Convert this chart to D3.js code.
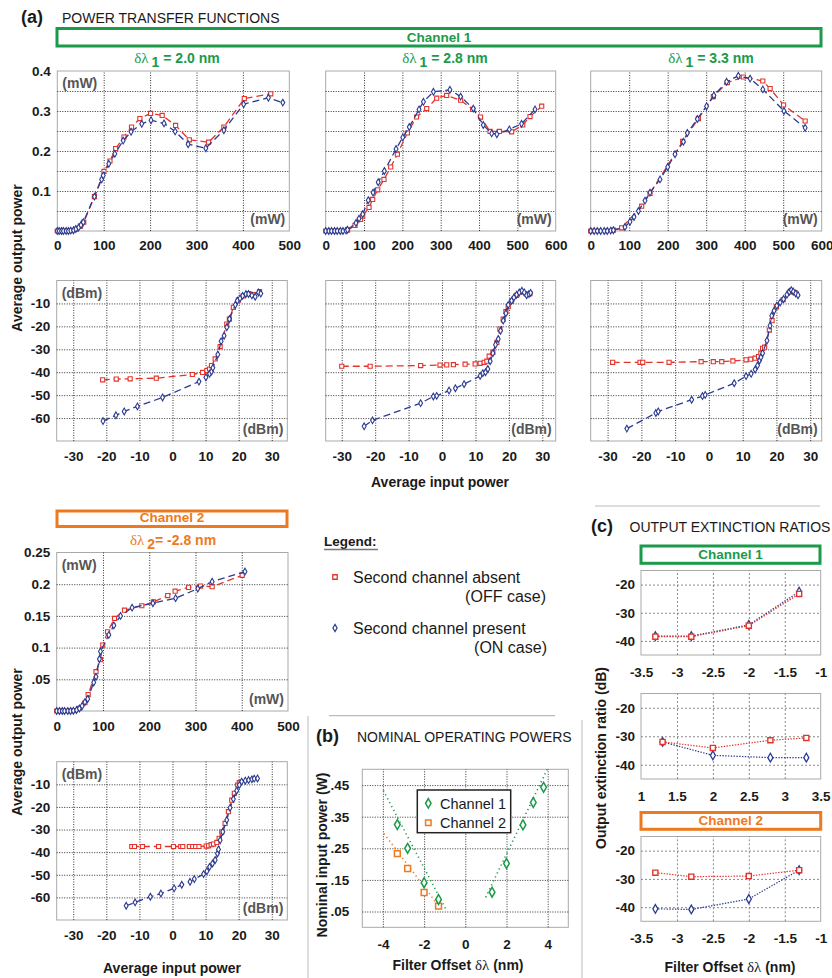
<!DOCTYPE html>
<html>
<head>
<meta charset="utf-8">
<script src="https://cdn.jsdelivr.net/npm/d3@7"></script>
<style>
  body { margin: 0; background: #fff; }
  svg { display: block; }
</style>
</head>
<body>
<svg id="fig" width="832" height="978"></svg>
<script>
// ---------- Channel 1 transfer functions, linear scale (input mW, output mW) ----------
const ch1Offsets = ["2.0", "2.8", "3.3"];
const ch2Offset = "-2.8";

const ch1Lin20Off = [[0,0],[10,0],[20,0],[30,0.001],[40,0.004],[50,0.012],[57,0.022],[80,0.086],[100.6,0.149],[113.5,0.175],[125.7,0.206],[143.7,0.235],[160,0.26],[178,0.281],[201,0.294],[226,0.289],[255,0.264],[284.5,0.228],[326,0.222],[359,0.26],[403,0.331],[460,0.343]];
const ch1Lin20On = [[0,0],[4,0],[9,0],[13,0],[19,0],[24,0],[29,0.001],[35,0.002],[40,0.005],[46,0.009],[51,0.015],[56,0.022],[80,0.086],[95.5,0.129],[99,0.139],[111,0.168],[124,0.193],[142,0.226],[159,0.248],[182,0.268],[202,0.277],[230,0.269],[254,0.249],[282,0.217],[320,0.207],[359,0.252],[401.6,0.317],[455,0.333],[486,0.321]];

const ch1Lin28Off = [[0,0],[20,0],[40,0],[57,0.002],[76.5,0.014],[91,0.029],[96.5,0.037],[113,0.059],[122.6,0.079],[135.7,0.103],[152,0.129],[169.6,0.16],[187,0.192],[213,0.245],[237,0.285],[263.5,0.306],[289.6,0.332],[315.6,0.339],[352,0.327],[383.5,0.304],[404,0.285],[428.7,0.249],[453,0.249],[485,0.248],[514,0.265],[533,0.286],[563.5,0.312]];
const ch1Lin28On = [[0,0],[8,0],[15,0],[23,0],[30,0],[38,0],[45,0],[53,0.001],[57,0.003],[79,0.02],[87,0.031],[96.5,0.042],[111,0.077],[123.5,0.096],[137,0.122],[153,0.15],[183.5,0.205],[201,0.234],[218,0.26],[243.5,0.304],[255,0.323],[281,0.348],[324,0.353],[352,0.336],[385,0.306],[411,0.265],[433,0.244],[446.5,0.242],[479,0.254],[511,0.268],[546,0.304]];

const ch1Lin33Off = [[0,0],[20,0],[40,0],[59,0.002],[80.5,0.008],[132.5,0.062],[154,0.094],[239,0.224],[279.7,0.281],[318.6,0.336],[355,0.371],[396.5,0.385],[447,0.375],[466,0.356],[501,0.315],[557,0.275]];
const ch1Lin33On = [[0,0],[9,0],[17,0],[26,0],[35,0],[43,0],[52,0.001],[59,0.002],[89,0.01],[102,0.023],[112.5,0.035],[124,0.05],[141,0.076],[154,0.096],[180,0.129],[200,0.16],[219,0.192],[240.7,0.223],[251,0.245],[277,0.28],[301,0.312],[320,0.339],[353,0.373],[383.5,0.388],[414,0.381],[447,0.354],[502,0.3],[557,0.258]];

// ---------- Channel 1 transfer functions, log scale (input dBm, output dBm) ----------
const ch1Log20Off = [[-21.1,-43.3],[-17,-43],[-12.8,-42.9],[-4.9,-42.6],[6,-41],[9.1,-40.1],[10.4,-39.3],[11.2,-38.6],[11.8,-37.1],[12.9,-34.2],[14.4,-28.8],[16.4,-19],[17.2,-16.8],[18.4,-11.7],[19.9,-8.6],[21.4,-6.7],[23,-5.7],[24.5,-6.2],[26.3,-4.9]];
const ch1Log20On = [[-21,-61.3],[-17.1,-58.8],[-14.6,-57.1],[-10.6,-54.9],[-3,-51],[8,-44.1],[10.1,-42.2],[11.2,-40.7],[11.8,-39.7],[12.2,-38.1],[13.7,-32.3],[14.7,-26.5],[15.6,-24.1],[16.4,-20.4],[17.2,-16.8],[19,-10.6],[19.6,-8.8],[20.4,-7.8],[21.2,-6.7],[22.2,-5.9],[23,-5.9],[24,-6.5],[25,-7.1],[26,-5.2],[26.7,-5.7]];

const ch1Log28Off = [[-30,-37.4],[-21.5,-37.4],[-6.4,-37.1],[-0.6,-36.9],[1.4,-36.8],[3.4,-36.7],[6.9,-36.5],[9.9,-36.4],[11.4,-36.1],[12.6,-35.7],[13.4,-35.2],[14.1,-33],[15.2,-31.3],[16.4,-27],[17.3,-21.2],[18.3,-16.8],[19.1,-13.6],[19.8,-11.4],[20.8,-9],[22.3,-6.5],[24,-5],[26.3,-5.7]];
const ch1Log28On = [[-23.3,-63.6],[-20.8,-61],[-6.4,-53.5],[-2.6,-50.6],[-1.6,-50.3],[2.1,-48],[4,-47],[6.6,-45.2],[11.4,-41.6],[12.2,-40.4],[13,-40],[13.7,-38.6],[14.4,-35.2],[15.2,-31.7],[16,-28],[16.8,-25.5],[17.5,-21.9],[18.3,-17.5],[19.1,-14.3],[19.8,-10.7],[20.8,-8.8],[21.5,-7.4],[22.3,-6.2],[23.1,-5.2],[23.9,-4.5],[24.6,-5.2],[25.3,-6.4],[26,-5.9],[26.5,-5.4]];

const ch1Log33Off = [[-28.5,-35.7],[-20.4,-35.7],[-19.6,-35.7],[-11.8,-35.7],[-2.3,-35.4],[1.3,-35.4],[3.8,-35.4],[7.1,-35.1],[11,-34.6],[12.4,-34.3],[13.7,-33.9],[14.7,-33.2],[15.4,-31.7],[15.9,-29.6],[16.5,-29.1],[17.9,-21.6],[18.7,-17.5],[20,-11.5],[22,-8.3],[24,-5],[25.5,-5.3]];
const ch1Log33On = [[-24.3,-64.6],[-15.7,-57.8],[-15,-57.1],[-5.1,-52],[-1.9,-50.4],[-1.1,-49.9],[7.5,-44.8],[11,-41.7],[12.5,-40.7],[13.7,-38.8],[14.4,-37.1],[15,-34.9],[15.4,-33.5],[15.9,-31.7],[17.2,-26.2],[18.1,-19.7],[18.6,-15.4],[19.3,-13.2],[20.1,-11],[21.1,-9.6],[22.1,-8.1],[23.1,-6.2],[23.8,-4.9],[24.4,-4.2],[25,-4.8],[25.7,-5.7],[26.4,-6.4]];

// ---------- Channel 2 transfer functions ----------
const ch2LinOff = [[0,0],[12,0],[24,0],[36,0.0005],[49,0.004],[61,0.013],[68,0.026],[85,0.062],[94.6,0.081],[99.6,0.104],[110,0.125],[125,0.146],[146.6,0.159],[184,0.166],[209,0.172],[240,0.182],[256,0.189],[285,0.195],[311,0.197],[336,0.196],[401,0.214]];
const ch2LinOn = [[0,0],[6,0],[12,0],[17,0],[24,0],[30,0],[36,0.0005],[43,0.0016],[49,0.004],[55,0.008],[61,0.014],[67,0.019],[80,0.045],[85,0.054],[92.4,0.082],[94.6,0.094],[112.6,0.12],[123.5,0.135],[138,0.15],[163,0.163],[208,0.17],[257,0.178],[305,0.193],[336,0.204],[407,0.22]];
const ch2LogOff = [[-12.3,-37.5],[-11.5,-37.5],[-9.1,-37.5],[-4.2,-37.5],[0.3,-37.5],[2.5,-37.5],[3.1,-37.5],[5.1,-37.5],[6.1,-37.5],[7,-37.5],[8,-37.5],[10.2,-37.3],[10.9,-37.2],[11.7,-36.7],[12.4,-36.4],[13.4,-35.7],[14.1,-33.9],[14.9,-31],[15.9,-27.3],[16.9,-22.1],[17.9,-17],[18.7,-14],[19.7,-10.3],[20.2,-9.3]];
const ch2LogOn = [[-14,-63.7],[-11.3,-62.2],[-6.7,-59.7],[-3.5,-58.3],[0.5,-56],[2.8,-54.4],[5.3,-53.1],[6.6,-51.9],[9.4,-49.7],[10.4,-48.4],[11.2,-46.5],[12.1,-45],[12.9,-43.5],[13.6,-40.6],[13.9,-38.8],[14.4,-34.7],[15.2,-31],[16.4,-25.8],[17.4,-20.4],[18.4,-16.5],[19.4,-12.8],[20.2,-10.3],[20.9,-8.8],[22,-8.4],[23,-8.1],[24,-7.8],[24.7,-7.5],[25.7,-7.4]];

// ---------- (b) nominal operating powers ----------
const nomCh1 = [[-3.3,0.325],[-2.8,0.25],[-2,0.141],[-1.3,0.088],[1.3,0.111],[2,0.202],[2.8,0.324],[3.3,0.395],[3.8,0.443]];
const nomCh2 = [[-3.3,0.233],[-2.8,0.186],[-2,0.11],[-1.3,0.067]];
const fitCh1Neg = [[-3.98,0.433],[-0.95,0.058]];
const fitCh1Pos = [[0.99,0.095],[3.98,0.5]];
const fitCh2Neg = [[-3.95,0.297],[-1.15,0.055]];

// ---------- (c) output extinction ratios ----------
const extOffsetsNeg = [-3.3, -2.8, -2, -1.3];
const extOffsetsPos = [1.3, 2, 2.8, 3.3];
const extCh1NegOff = [-38.5, -38.5, -34.6, -23.3];
const extCh1NegOn  = [-38.3, -38.3, -34.3, -22.5];
const extCh1PosOff = [-32, -34.1, -31.4, -30.6];
const extCh1PosOn  = [-32, -36.7, -37.5, -37.5];
const extCh2Off    = [-27.8, -29.2, -29, -26.9];
const extCh2On     = [-40.6, -40.8, -37.1, -26.9];

// ---------- tick values / labels ----------
const mwTicks500 = [0, 100, 200, 300, 400, 500];
const mwTicks600 = [0, 100, 200, 300, 400, 500, 600];
const mwGridX = [100, 200, 300, 400, 500];
const mwTicksY = [0.1, 0.2, 0.3, 0.4];
const mwGridY = [0.05, 0.1, 0.15, 0.2, 0.25, 0.3, 0.35];
const dbmTicksX = [-30, -20, -10, 0, 10, 20, 30];
const dbmTicksY = [-10, -20, -30, -40, -50, -60];
const ch2TicksY = [0.05, 0.1, 0.15, 0.2, 0.25];
const ch2TickLabelsY = [".05", "0.1", "0.15", "0.2", "0.25"];
const ch2GridY = [0.05, 0.1, 0.15, 0.2];
const nomTicksX = [-4, -2, 0, 2, 4];
const nomTicksY = [0.05, 0.15, 0.25, 0.35, 0.45];
const nomTickLabelsY = [".05", ".15", ".25", ".35", ".45"];
const extTicksNeg = [-3.5, -3, -2.5, -2, -1.5, -1];
const extTicksPos = [1, 1.5, 2, 2.5, 3, 3.5];
const extTicksY = [-20, -30, -40];

// ---------- styling ----------
const RED = "#e2342c", BLUE = "#2b3b90", GREEN = "#1b9a4a", ORANGE = "#ee7a20";
const FONT = '"Liberation Sans", Arial, Helvetica, sans-serif';
const SERIF = '"Liberation Serif", "DejaVu Serif", serif';
const svg = d3.select("#fig");

const asPairs = (xs, ys) => xs.map((v, i) => [v, ys[i]]);

function label(x, y, str, o = {}) {
  const t = svg.append("text")
    .attr("x", x).attr("y", y)
    .attr("font-family", o.family || FONT)
    .attr("font-size", o.size || 13)
    .attr("font-weight", o.weight || "normal")
    .attr("fill", o.color || "#1a1a1a")
    .attr("text-anchor", o.anchor || "start")
    .text(str);
  if (o.rotate) t.attr("transform", `rotate(${o.rotate},${x},${y})`);
  return t;
}

function boxTitle(x0, x1, y0, y1, str, color) {
  svg.append("rect").attr("x", x0).attr("y", y0).attr("width", x1 - x0).attr("height", y1 - y0)
    .attr("fill", "#fff").attr("stroke", color).attr("stroke-width", 3);
  label((x0 + x1) / 2, y1 - 4.5, str, { anchor: "middle", weight: "bold", color, size: 13.5 });
}

function deltaLabel(cx, y, sub, rest, color) {
  const t = svg.append("text").attr("x", cx).attr("y", y).attr("text-anchor", "middle")
    .attr("fill", color).attr("font-family", FONT).attr("font-weight", "bold").attr("font-size", 14);
  t.append("tspan").attr("font-family", SERIF).attr("font-weight", "normal").attr("font-size", 15).text("δλ");
  t.append("tspan").attr("dx", 3).attr("dy", 4).attr("font-size", 14).text(sub);
  t.append("tspan").attr("dy", -4).text(rest);
}

function xTitle(cx, y, str) {
  label(cx, y, str, { anchor: "middle", weight: "bold", size: 14 });
}

function filterOffsetTitle(cx, y) {
  const t = svg.append("text").attr("x", cx).attr("y", y).attr("text-anchor", "middle")
    .attr("fill", "#1a1a1a").attr("font-family", FONT).attr("font-weight", "bold").attr("font-size", 14);
  t.append("tspan").text("Filter Offset ");
  t.append("tspan").attr("font-family", SERIF).attr("font-weight", "normal").attr("font-size", 15).text("δλ");
  t.append("tspan").text(" (nm)");
}

function drawPanel(p) {
  const g = svg.append("g");
  const x = d3.scaleLinear().domain(p.xDomain).range([p.left, p.right]);
  const y = d3.scaleLinear().domain(p.yDomain).range([p.bottom, p.top]);
  const w = p.right - p.left, h = p.bottom - p.top;

  g.append("rect").attr("x", p.left).attr("y", p.top).attr("width", w).attr("height", h)
    .attr("fill", "#fff").attr("stroke", p.frameColor || "#a9a9a9").attr("stroke-width", 1);

  // grid lines
  const gx = g.append("g").attr("transform", `translate(0,${p.bottom})`)
    .call(d3.axisBottom(x).tickValues(p.xGrid).tickSize(-h).tickFormat(""));
  const gy = g.append("g").attr("transform", `translate(${p.left},0)`)
    .call(d3.axisLeft(y).tickValues(p.yGrid).tickSize(-w).tickFormat(""));
  [gx, gy].forEach(a => {
    a.select(".domain").remove();
    a.selectAll("line").attr("stroke", p.gridColor || "#333")
      .attr("stroke-dasharray", p.gridDash || "1,1.5").attr("stroke-width", 1);
  });

  // tick labels
  const styleTicks = a => {
    a.select(".domain").remove();
    a.selectAll("text").attr("font-family", FONT).attr("font-weight", "bold")
      .attr("font-size", 13.5).attr("fill", "#1a1a1a");
  };
  if (p.xTicks) {
    const fmt = d => p.xLabels ? p.xLabels[p.xTicks.indexOf(d)] : String(d);
    const ax = g.append("g").attr("transform", `translate(0,${p.bottom})`)
      .call(d3.axisBottom(x).tickValues(p.xTicks).tickSize(0).tickPadding(p.xPad || 10).tickFormat(fmt));
    styleTicks(ax);
  }
  if (p.yTicks) {
    const fmt = d => p.yLabels ? p.yLabels[p.yTicks.indexOf(d)] : String(d);
    const ay = g.append("g").attr("transform", `translate(${p.left},0)`)
      .call(d3.axisLeft(y).tickValues(p.yTicks).tickSize(0).tickPadding(p.yPad || 6.5).tickFormat(fmt));
    styleTicks(ay);
  }

  // unit tags inside the frame
  if (p.unitTL) label(p.left + 5, p.top + 17, p.unitTL, { weight: "bold", size: 14, color: "#555" });
  if (p.unitBR) label(p.right - 4, p.bottom - 7, p.unitBR, { weight: "bold", size: 14, color: "#555", anchor: "end" });

  // data series
  (p.series || []).forEach(s => {
    const line = d3.line().x(d => x(d[0])).y(d => y(d[1]));
    g.append("path").datum(s.data).attr("d", line).attr("fill", "none")
      .attr("stroke", s.lineColor || s.color).attr("stroke-width", s.lineWidth || 1.3)
      .attr("stroke-dasharray", s.dash || null);
    if (s.marker) {
      const sym = d3.symbol(s.marker === "square" ? d3.symbolSquare : d3.symbolDiamond, s.size || 16);
      g.append("g").selectAll("path").data(s.data).join("path")
        .attr("transform", d => `translate(${x(d[0])},${y(d[1])})`)
        .attr("d", sym).attr("fill", "#fff").attr("stroke", s.color).attr("stroke-width", s.markerWidth || 1.1);
    }
  });
  return { x, y, g };
}

const offSeries = data => ({ data, color: RED, marker: "square", size: 17, dash: "7,4" });
const onSeries = data => ({ data, color: BLUE, marker: "diamond", size: 13, dash: "7,4" });

// ================= (a) POWER TRANSFER FUNCTIONS =================
label(21, 23, "(a)", { weight: "bold", size: 18 });
label(62, 22.5, "POWER TRANSFER FUNCTIONS", { size: 14 });
boxTitle(57, 821, 28.5, 46, "Channel 1", GREEN);

const colL = [57.3, 289.3], colM = [325.7, 555.7], colR = [590.7, 821.7];
const rowLinTop = 71, rowLinBot = 231, rowLogTop = 280.5, rowLogBot = 441;

deltaLabel(177, 63, "1", " = " + ch1Offsets[0] + " nm", GREEN);
deltaLabel(445, 63, "1", " = " + ch1Offsets[1] + " nm", GREEN);
deltaLabel(711, 63, "1", " = " + ch1Offsets[2] + " nm", GREEN);

// linear-scale row
drawPanel({ left: colL[0], right: colL[1], top: rowLinTop, bottom: rowLinBot, xDomain: [0, 500], yDomain: [0, 0.4],
  xGrid: mwGridX.slice(0, 4), yGrid: mwGridY, xTicks: mwTicks500, xPad: 9, yTicks: mwTicksY,
  unitTL: "(mW)", unitBR: "(mW)", series: [offSeries(ch1Lin20Off), onSeries(ch1Lin20On)] });
drawPanel({ left: colM[0], right: colM[1], top: rowLinTop, bottom: rowLinBot, xDomain: [0, 600], yDomain: [0, 0.4],
  xGrid: mwGridX, yGrid: mwGridY, xTicks: mwTicks600, xPad: 9,
  unitBR: "(mW)", series: [offSeries(ch1Lin28Off), onSeries(ch1Lin28On)] });
drawPanel({ left: colR[0], right: colR[1], top: rowLinTop, bottom: rowLinBot, xDomain: [0, 600], yDomain: [0, 0.4],
  xGrid: mwGridX, yGrid: mwGridY, xTicks: mwTicks600, xPad: 9,
  unitBR: "(mW)", series: [offSeries(ch1Lin33Off), onSeries(ch1Lin33On)] });

// log-scale row
const dbmGridX = [-30, -20, -10, 0, 10, 20, 30];
drawPanel({ left: 56.7, right: 287.3, top: rowLogTop, bottom: rowLogBot, xDomain: [-35, 34.7], yDomain: [-70, 0],
  xGrid: dbmGridX, yGrid: dbmTicksY, xTicks: dbmTicksX, yTicks: dbmTicksY, xPad: 10,
  unitTL: "(dBm)", unitBR: "(dBm)", series: [offSeries(ch1Log20Off), onSeries(ch1Log20On)] });
drawPanel({ left: colM[0], right: colM[1], top: rowLogTop, bottom: rowLogBot, xDomain: [-34.8, 34], yDomain: [-70, 0],
  xGrid: dbmGridX, yGrid: dbmTicksY, xTicks: dbmTicksX, xPad: 10,
  unitBR: "(dBm)", series: [offSeries(ch1Log28Off), onSeries(ch1Log28On)] });
drawPanel({ left: colR[0], right: colR[1], top: rowLogTop, bottom: rowLogBot, xDomain: [-35, 33.4], yDomain: [-70, 0],
  xGrid: dbmGridX, yGrid: dbmTicksY, xTicks: dbmTicksX, xPad: 10,
  unitBR: "(dBm)", series: [offSeries(ch1Log33Off), onSeries(ch1Log33On)] });

label(21.5, 258, "Average output power", { weight: "bold", size: 14, anchor: "middle", rotate: -90 });
xTitle(440, 487, "Average input power");

// ================= Channel 2 =================
boxTitle(57, 287, 511, 526.5, "Channel 2", ORANGE);
deltaLabel(173, 545, "2", "= " + ch2Offset + " nm", ORANGE);

drawPanel({ left: 56.7, right: 288, top: 552.5, bottom: 711, xDomain: [0, 500], yDomain: [0, 0.25],
  xGrid: [100, 200, 300, 400], yGrid: ch2GridY, xTicks: mwTicks500, xPad: 10,
  yTicks: ch2TicksY, yLabels: ch2TickLabelsY,
  unitTL: "(mW)", unitBR: "(mW)", series: [offSeries(ch2LinOff), onSeries(ch2LinOn)] });
drawPanel({ left: 56.7, right: 287.3, top: 761.7, bottom: 920, xDomain: [-35, 34.7], yDomain: [-70, 0],
  xGrid: dbmGridX, yGrid: dbmTicksY, xTicks: dbmTicksX, yTicks: dbmTicksY, xPad: 10,
  unitTL: "(dBm)", unitBR: "(dBm)", series: [offSeries(ch2LogOff), onSeries(ch2LogOn)] });

label(21.5, 742, "Average output power", { weight: "bold", size: 14, anchor: "middle", rotate: -90 });
xTitle(172, 973, "Average input power");

// ================= Legend =================
label(324, 546, "Legend:", { weight: "bold", size: 13.5 });
svg.append("line").attr("x1", 324).attr("x2", 378).attr("y1", 549.5).attr("y2", 549.5)
  .attr("stroke", "#777").attr("stroke-width", 1.6);
svg.append("path").attr("transform", "translate(335,577)").attr("d", d3.symbol(d3.symbolSquare, 20))
  .attr("fill", "#fff").attr("stroke", RED).attr("stroke-width", 1.3);
svg.append("path").attr("transform", "translate(335,628)").attr("d", d3.symbol(d3.symbolDiamond, 15))
  .attr("fill", "#fff").attr("stroke", BLUE).attr("stroke-width", 1.2);
label(353, 582.5, "Second channel absent", { size: 16 });
label(546, 602, "(OFF case)", { size: 16, anchor: "end" });
label(353, 633.5, "Second channel present", { size: 16 });
label(547, 652.5, "(ON case)", { size: 16, anchor: "end" });

// separators
svg.append("line").attr("x1", 329).attr("x2", 555).attr("y1", 715.7).attr("y2", 715.7).attr("stroke", "#bbb").attr("stroke-width", 1.2);
svg.append("line").attr("x1", 595).attr("x2", 820).attr("y1", 506).attr("y2", 506).attr("stroke", "#bbb").attr("stroke-width", 1.2);
svg.append("line").attr("x1", 308).attr("x2", 308).attr("y1", 716).attr("y2", 978).attr("stroke", "#bbb").attr("stroke-width", 1);
svg.append("line").attr("x1", 582).attr("x2", 582).attr("y1", 720).attr("y2", 978).attr("stroke", "#bbb").attr("stroke-width", 1);

// ================= (b) NOMINAL OPERATING POWERS =================
label(316, 742, "(b)", { weight: "bold", size: 18 });
label(357, 742, "NOMINAL OPERATING POWERS", { size: 14 });

drawPanel({ left: 362.3, right: 568.3, top: 769.3, bottom: 927.3, xDomain: [-5, 5], yDomain: [0, 0.5],
  xGrid: nomTicksX, yGrid: nomTicksY, xTicks: nomTicksX, xPad: 12,
  yTicks: nomTicksY, yLabels: nomTickLabelsY, yPad: 13,
  series: [
    { data: fitCh1Neg, color: GREEN, dash: "1.2,3.2", lineWidth: 1.6 },
    { data: fitCh1Pos, color: GREEN, dash: "1.2,3.2", lineWidth: 1.6 },
    { data: fitCh2Neg, color: ORANGE, dash: "1.2,3.2", lineWidth: 1.6 },
    { data: nomCh2, color: ORANGE, lineColor: "none", marker: "square", size: 34, markerWidth: 1.5 },
    { data: nomCh1, color: GREEN, lineColor: "none", marker: "diamond", size: 28, markerWidth: 1.5 }
  ] });

// in-plot legend
svg.append("rect").attr("x", 417.3).attr("y", 790).attr("width", 93.4).attr("height", 42.7)
  .attr("fill", "#fff").attr("stroke", "#222").attr("stroke-width", 1.5);
svg.append("path").attr("transform", "translate(428.3,803.3)").attr("d", d3.symbol(d3.symbolDiamond, 26))
  .attr("fill", "#fff").attr("stroke", GREEN).attr("stroke-width", 1.5);
svg.append("path").attr("transform", "translate(428.3,822.7)").attr("d", d3.symbol(d3.symbolSquare, 30))
  .attr("fill", "#fff").attr("stroke", ORANGE).attr("stroke-width", 1.5);
label(440, 808.5, "Channel 1", { size: 14.5 });
label(440, 828, "Channel 2", { size: 14.5 });

label(327, 855, "Nominal input power (W)", { weight: "bold", size: 14, anchor: "middle", rotate: -90 });
filterOffsetTitle(458, 970);

// ================= (c) OUTPUT EXTINCTION RATIOS =================
label(591, 531.5, "(c)", { weight: "bold", size: 18 });
label(629.5, 531.5, "OUTPUT EXTINCTION RATIOS", { size: 14 });
boxTitle(641, 820, 546, 563.3, "Channel 1", GREEN);

const extOff = data => ({ data, color: RED, marker: "square", size: 26, dash: "1.4,1.4", markerWidth: 1.4, lineWidth: 1.2 });
const extOn = data => ({ data, color: BLUE, marker: "diamond", size: 22, dash: "1.4,1.4", markerWidth: 1.3, lineWidth: 1.2 });
const extGrid = { gridColor: "#888", gridDash: "2,2", xPad: 12, yPad: 6 };

drawPanel(Object.assign({ left: 641, right: 820.7, top: 570.5, bottom: 655, xDomain: [-3.5, -1], yDomain: [-45, -15],
  xGrid: [-3, -2.5, -2, -1.5], yGrid: extTicksY, xTicks: extTicksNeg, yTicks: extTicksY,
  series: [extOn(asPairs(extOffsetsNeg, extCh1NegOn)), extOff(asPairs(extOffsetsNeg, extCh1NegOff))] }, extGrid));
drawPanel(Object.assign({ left: 641, right: 820.7, top: 693.5, bottom: 779, xDomain: [1, 3.5], yDomain: [-45, -15],
  xGrid: [1.5, 2, 2.5, 3], yGrid: extTicksY, xTicks: extTicksPos, yTicks: extTicksY,
  series: [extOn(asPairs(extOffsetsPos, extCh1PosOn)), extOff(asPairs(extOffsetsPos, extCh1PosOff))] }, extGrid));

boxTitle(641, 820.7, 812.5, 829.3, "Channel 2", ORANGE);

drawPanel(Object.assign({ left: 641, right: 820.7, top: 836.5, bottom: 921.3, xDomain: [-3.5, -1], yDomain: [-45, -15],
  xGrid: [-3, -2.5, -2, -1.5], yGrid: extTicksY, xTicks: extTicksNeg, yTicks: extTicksY, xPad: 11,
  series: [extOn(asPairs(extOffsetsNeg, extCh2On)), extOff(asPairs(extOffsetsNeg, extCh2Off))] }, extGrid));

label(606, 758, "Output extinction ratio (dB)", { weight: "bold", size: 14, anchor: "middle", rotate: -90 });
filterOffsetTitle(730, 971.5);
</script>
</body>
</html>
